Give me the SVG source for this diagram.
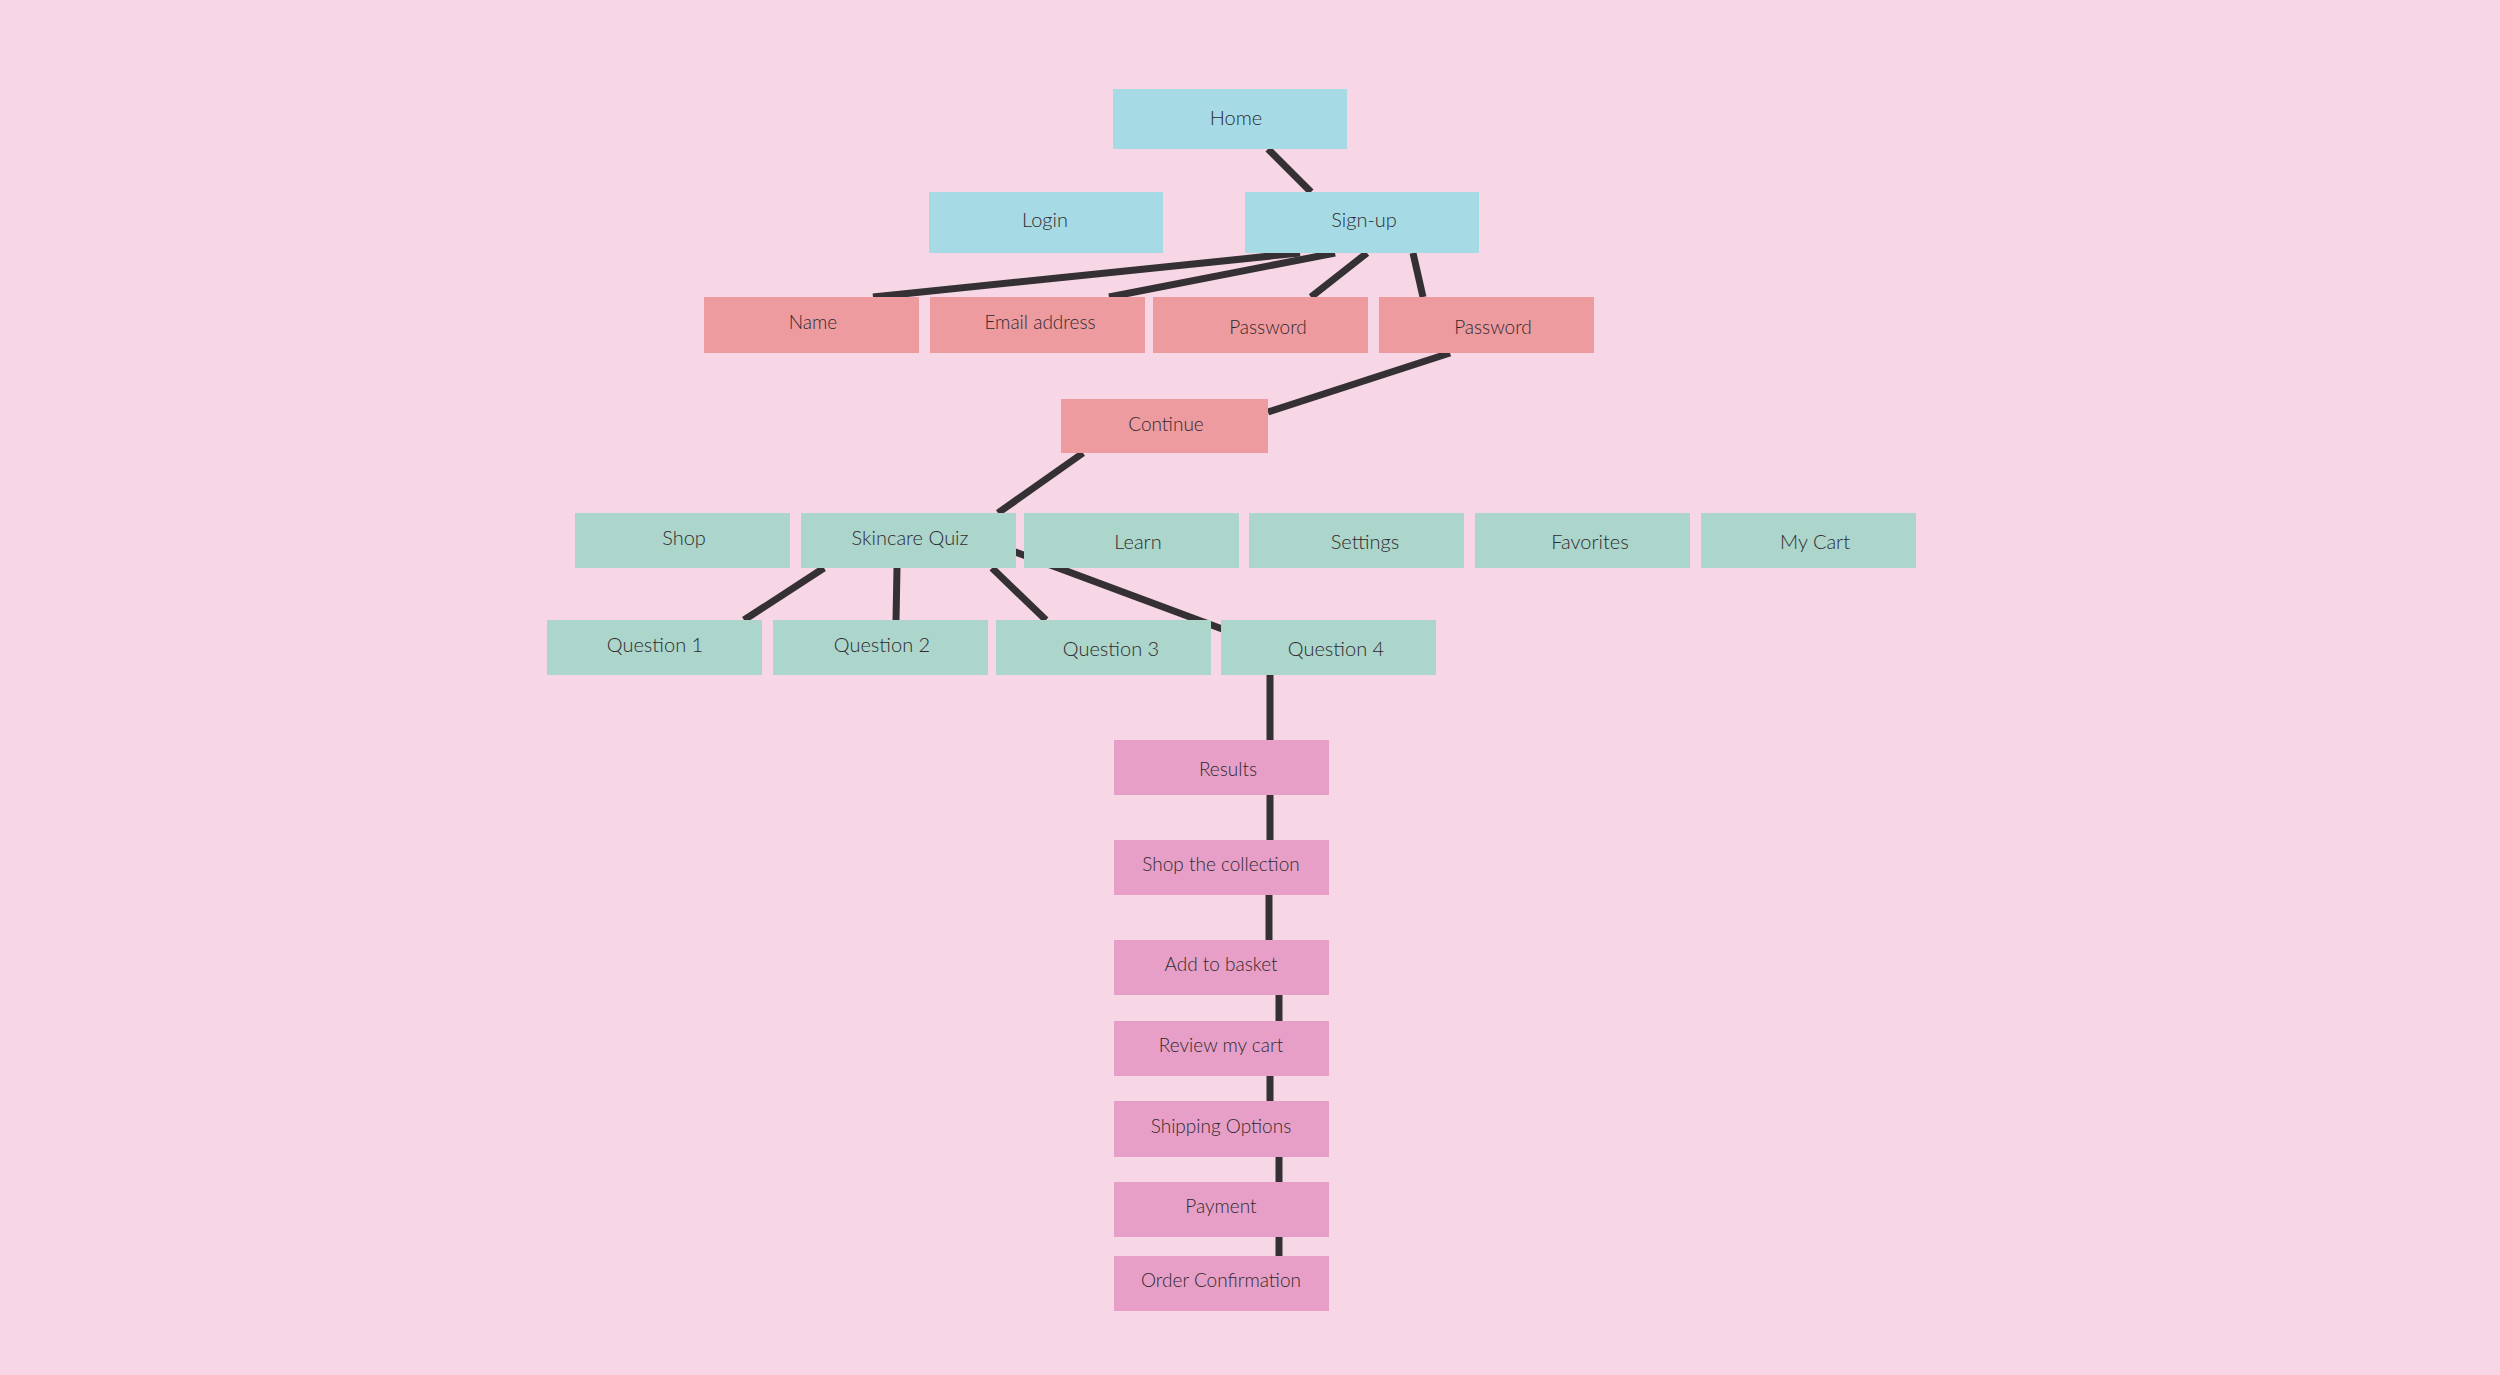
<svg xmlns="http://www.w3.org/2000/svg" width="2500" height="1375" viewBox="0 0 2500 1375">
<style>
.bg{fill:#f7d7e6}
.blue{fill:#a6dbe6}
.red{fill:#ee9ba0}
.green{fill:#acd5cb}
.pink{fill:#e79fc7}
.lbl{font-family:Lato,"Open Sans",sans-serif;font-size:20px;font-weight:300;fill:#2f2a2d;text-anchor:middle;dominant-baseline:central}
.lbl2{font-family:Lato,"Open Sans",sans-serif;font-size:19px;font-weight:300;fill:#2f2a2d;text-anchor:middle;dominant-baseline:central}
.edge{stroke:#343034;stroke-width:7;fill:none}
</style>
<rect class="bg" x="0" y="0" width="2500" height="1375"/>
<g id="connectors">
<line class="edge" x1="1268" y1="149" x2="1311" y2="192"/>
<line class="edge" x1="1300" y1="253" x2="873" y2="297"/>
<line class="edge" x1="1335" y1="253" x2="1109" y2="297"/>
<line class="edge" x1="1367" y1="253" x2="1311" y2="297"/>
<line class="edge" x1="1413" y1="253" x2="1423" y2="297"/>
<line class="edge" x1="1450" y1="353" x2="1268" y2="412"/>
<line class="edge" x1="1083" y1="453" x2="998" y2="513"/>
<line class="edge" x1="824" y1="568" x2="744" y2="620"/>
<line class="edge" x1="897" y1="568" x2="896" y2="620"/>
<line class="edge" x1="992" y1="568" x2="1046" y2="620"/>
<line class="edge" x1="1010" y1="550" x2="1225" y2="630"/>
<line class="edge" x1="1270" y1="675" x2="1270" y2="740"/>
<line class="edge" x1="1270" y1="795" x2="1270" y2="840"/>
<line class="edge" x1="1269" y1="895" x2="1269" y2="940"/>
<line class="edge" x1="1279" y1="995" x2="1279" y2="1021"/>
<line class="edge" x1="1270" y1="1076" x2="1270" y2="1101"/>
<line class="edge" x1="1279" y1="1157" x2="1279" y2="1182"/>
<line class="edge" x1="1279" y1="1237" x2="1279" y2="1256"/>
</g>
<g id="home"><rect class="blue" x="1113" y="89" width="234" height="60"/><text class="lbl" x="1236" y="117">Home</text></g>
<g id="login"><rect class="blue" x="929" y="192" width="234" height="61"/><text class="lbl" x="1045" y="219">Login</text></g>
<g id="signup"><rect class="blue" x="1245" y="192" width="234" height="61"/><text class="lbl" x="1364" y="219">Sign-up</text></g>
<g id="name"><rect class="red" x="704" y="297" width="215" height="56"/><text class="lbl2" x="813" y="321">Name</text></g>
<g id="email"><rect class="red" x="930" y="297" width="215" height="56"/><text class="lbl2" x="1040" y="321">Email address</text></g>
<g id="password1"><rect class="red" x="1153" y="297" width="215" height="56"/><text class="lbl2" x="1268" y="326">Password</text></g>
<g id="password2"><rect class="red" x="1379" y="297" width="215" height="56"/><text class="lbl2" x="1493" y="326">Password</text></g>
<g id="continue"><rect class="red" x="1061" y="399" width="207" height="54"/><text class="lbl2" x="1166" y="423">Continue</text></g>
<g id="shop"><rect class="green" x="575" y="513" width="215" height="55"/><text class="lbl" x="684" y="537">Shop</text></g>
<g id="quiz"><rect class="green" x="801" y="513" width="215" height="55"/><text class="lbl" x="910" y="537">Skincare Quiz</text></g>
<g id="learn"><rect class="green" x="1024" y="513" width="215" height="55"/><text class="lbl" x="1138" y="541">Learn</text></g>
<g id="settings"><rect class="green" x="1249" y="513" width="215" height="55"/><text class="lbl" x="1365" y="541">Settings</text></g>
<g id="favorites"><rect class="green" x="1475" y="513" width="215" height="55"/><text class="lbl" x="1590" y="541">Favorites</text></g>
<g id="mycart"><rect class="green" x="1701" y="513" width="215" height="55"/><text class="lbl" x="1815" y="541">My Cart</text></g>
<g id="q1"><rect class="green" x="547" y="620" width="215" height="55"/><text class="lbl" x="655" y="644">Question 1</text></g>
<g id="q2"><rect class="green" x="773" y="620" width="215" height="55"/><text class="lbl" x="882" y="644">Question 2</text></g>
<g id="q3"><rect class="green" x="996" y="620" width="215" height="55"/><text class="lbl" x="1111" y="648">Question 3</text></g>
<g id="q4"><rect class="green" x="1221" y="620" width="215" height="55"/><text class="lbl" x="1336" y="648">Question 4</text></g>
<g id="results"><rect class="pink" x="1114" y="740" width="215" height="55"/><text class="lbl2" x="1228" y="768">Results</text></g>
<g id="shopcollection"><rect class="pink" x="1114" y="840" width="215" height="55"/><text class="lbl2" x="1221" y="863">Shop the collection</text></g>
<g id="addtobasket"><rect class="pink" x="1114" y="940" width="215" height="55"/><text class="lbl2" x="1221" y="963">Add to basket</text></g>
<g id="reviewcart"><rect class="pink" x="1114" y="1021" width="215" height="55"/><text class="lbl2" x="1221" y="1044">Review my cart</text></g>
<g id="shipping"><rect class="pink" x="1114" y="1101" width="215" height="56"/><text class="lbl2" x="1221" y="1125">Shipping Options</text></g>
<g id="payment"><rect class="pink" x="1114" y="1182" width="215" height="55"/><text class="lbl2" x="1221" y="1205">Payment</text></g>
<g id="orderconfirmation"><rect class="pink" x="1114" y="1256" width="215" height="55"/><text class="lbl2" x="1221" y="1279">Order Confirmation</text></g>
</svg>
